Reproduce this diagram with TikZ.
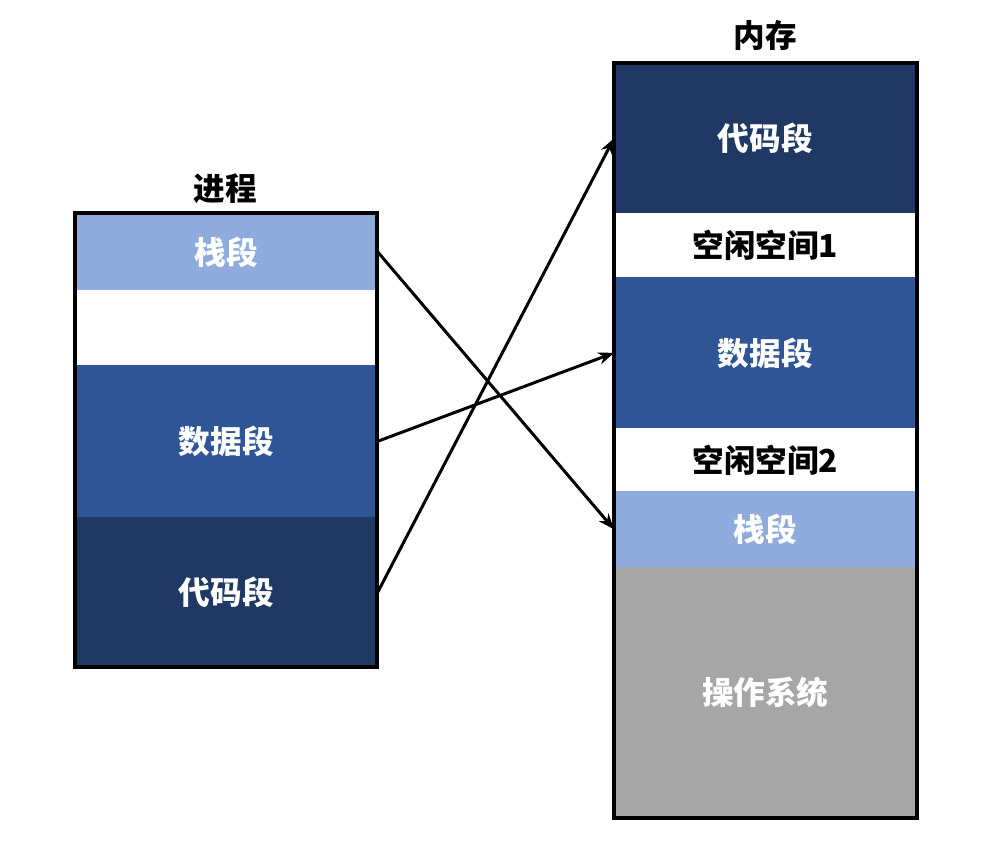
\documentclass[tikz,border=0pt]{standalone}
\usepackage{fontspec}
\setmainfont{Noto Sans CJK SC}
\usetikzlibrary{arrows.meta}
\definecolor{segLight}{HTML}{8FAADC}
\definecolor{segMid}{HTML}{2F5597}
\definecolor{segDark}{HTML}{203864}
\definecolor{segGray}{HTML}{A6A6A6}
\tikzset{
  seg/.style={rectangle, inner sep=0pt, minimum width=6.04cm, anchor=north west,
    font=\fontsize{18}{21}\selectfont\bfseries, text=white},
  freeseg/.style={seg, text=black},
  frame/.style={draw=black, line width=2pt},
  map/.style={-{Stealth[length=9pt,width=7pt]}, line width=1.7pt}
}
\begin{document}
\begin{tikzpicture}[x=0.02cm, y=-0.02cm]
\useasboundingbox (0,0) rectangle (987,858);
% process
\node[font=\fontsize{18}{21}\selectfont\bfseries] (procT) at (225,189) {进程};
\node[seg, fill=segLight, minimum height=1.54cm] (stackL) at (75,213) {栈段};
\node[freeseg, fill=white, minimum height=1.50cm] (gapL) at (75,290) {};
\node[seg, fill=segMid, minimum height=3.04cm] (dataL) at (75,365) {数据段};
\node[seg, fill=segDark, minimum height=3.00cm] (codeL) at (75,517) {代码段};
\draw[frame] (75,213) rectangle (377,667);
% memory
\node[font=\fontsize{18}{21}\selectfont\bfseries] (memT) at (765,36) {内存};
\node[seg, fill=segDark, minimum height=3.00cm] (codeR) at (614,63) {代码段};
\node[freeseg, fill=white, minimum height=1.28cm] (freeA) at (614,213) {空闲空间1};
\node[seg, fill=segMid, minimum height=3.02cm] (dataR) at (614,277) {数据段};
\node[freeseg, fill=white, minimum height=1.26cm] (freeB) at (614,428) {空闲空间2};
\node[seg, fill=segLight, minimum height=1.52cm] (stackR) at (614,491) {栈段};
\node[seg, fill=segGray, minimum height=5.02cm] (osR) at (614,567) {操作系统};
\draw[frame] (614,63) rectangle (917,818);
% mapping
\draw[map] (stackL.east) -- (stackR.west);
\draw[map] (dataL.east) -- (dataR.west);
\draw[map] (codeL.east) -- (codeR.west);
\end{tikzpicture}
\end{document}
